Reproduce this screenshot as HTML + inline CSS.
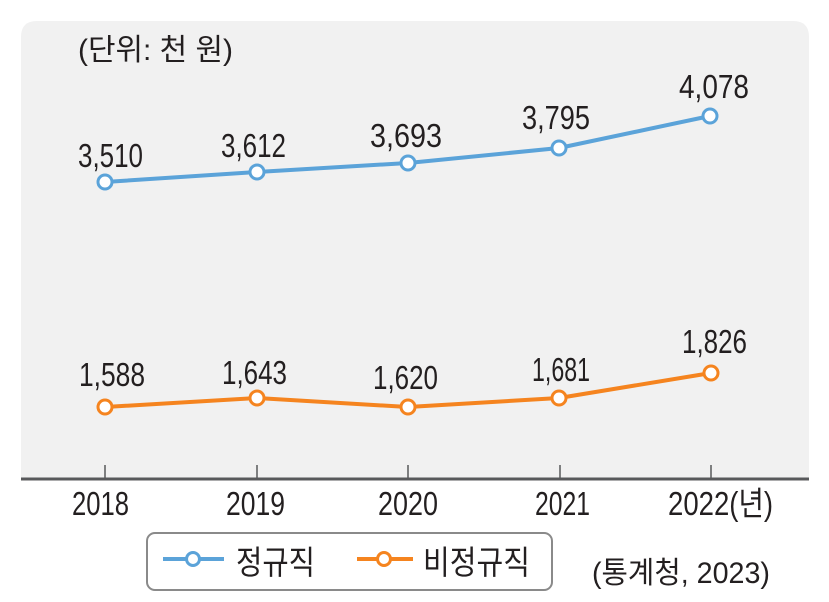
<!DOCTYPE html>
<html>
<head>
<meta charset="utf-8">
<style>
  html, body { margin:0; padding:0; background:#ffffff; }
  body { width:829px; height:602px; overflow:hidden; }
  svg { display:block; }
  .num { font-family:"Liberation Sans", sans-serif; font-size:33px; fill:#231f20; }
  .kr { font-family:"Liberation Sans", "Noto Sans CJK KR", sans-serif; fill:#231f20; }
</style>
</head>
<body>
<svg width="829" height="602" viewBox="0 0 829 602" xmlns="http://www.w3.org/2000/svg">
  <!-- panel -->
  <path d="M21,479 L21,37 Q21,21 37,21 L793,21 Q809,21 809,37 L809,479 Z" fill="#f1f1f1"/>
  <!-- axis -->
  <line x1="21" y1="479" x2="809" y2="479" stroke="#58595b" stroke-width="3"/>
  <g stroke="#58595b" stroke-width="1.5">
    <line x1="105" y1="465" x2="105" y2="479"/>
    <line x1="257" y1="465" x2="257" y2="479"/>
    <line x1="408" y1="465" x2="408" y2="479"/>
    <line x1="560" y1="465" x2="560" y2="479"/>
    <line x1="711" y1="465" x2="711" y2="479"/>
  </g>

  <!-- unit -->
  <text class="kr" x="78" y="60" font-size="30" textLength="155" lengthAdjust="spacingAndGlyphs">(단위: 천 원)</text>

  <!-- blue series -->
  <polyline points="105,182 257,172 408,163 559,148 710,116" fill="none" stroke="#5ba3d9" stroke-width="4" stroke-linejoin="round"/>
  <g fill="#ffffff" stroke="#5ba3d9" stroke-width="3">
    <circle cx="105" cy="182" r="7"/>
    <circle cx="257" cy="172" r="7"/>
    <circle cx="408" cy="163" r="7"/>
    <circle cx="559" cy="148" r="7"/>
    <circle cx="710" cy="116" r="7"/>
  </g>
  <text class="num" x="78" y="167" textLength="65" lengthAdjust="spacingAndGlyphs">3,510</text>
  <text class="num" x="221" y="157" textLength="65" lengthAdjust="spacingAndGlyphs">3,612</text>
  <text class="num" x="370" y="147" textLength="72" lengthAdjust="spacingAndGlyphs">3,693</text>
  <text class="num" x="522" y="129" textLength="68" lengthAdjust="spacingAndGlyphs">3,795</text>
  <text class="num" x="679" y="98" textLength="70" lengthAdjust="spacingAndGlyphs">4,078</text>

  <!-- orange series -->
  <polyline points="105,407 257,398 408,407 559,398 711,373" fill="none" stroke="#f5841f" stroke-width="4" stroke-linejoin="round"/>
  <g fill="#ffffff" stroke="#f5841f" stroke-width="3">
    <circle cx="105" cy="407" r="7"/>
    <circle cx="257" cy="398" r="7"/>
    <circle cx="408" cy="407" r="7"/>
    <circle cx="559" cy="398" r="7"/>
    <circle cx="711" cy="373" r="7"/>
  </g>
  <text class="num" x="79" y="386" textLength="66" lengthAdjust="spacingAndGlyphs">1,588</text>
  <text class="num" x="222" y="384" textLength="65" lengthAdjust="spacingAndGlyphs">1,643</text>
  <text class="num" x="373" y="389" textLength="65" lengthAdjust="spacingAndGlyphs">1,620</text>
  <text class="num" x="532" y="381" textLength="58" lengthAdjust="spacingAndGlyphs">1,681</text>
  <text class="num" x="682" y="353" textLength="65" lengthAdjust="spacingAndGlyphs">1,826</text>

  <!-- x labels -->
  <text class="num" x="72" y="515" textLength="57" lengthAdjust="spacingAndGlyphs">2018</text>
  <text class="num" x="226" y="515" textLength="59" lengthAdjust="spacingAndGlyphs">2019</text>
  <text class="num" x="378" y="515" textLength="60" lengthAdjust="spacingAndGlyphs">2020</text>
  <text class="num" x="535" y="515" textLength="55" lengthAdjust="spacingAndGlyphs">2021</text>
  <text class="kr" x="668" y="515" font-size="33" textLength="105" lengthAdjust="spacingAndGlyphs">2022(년)</text>

  <!-- legend -->
  <rect x="147" y="533" width="405" height="57" rx="8" ry="8" fill="#ffffff" stroke="#8a8a8a" stroke-width="2"/>
  <line x1="163" y1="559" x2="224" y2="559" stroke="#5ba3d9" stroke-width="4"/>
  <circle cx="193" cy="559" r="6.5" fill="#ffffff" stroke="#5ba3d9" stroke-width="3"/>
  <text class="kr" x="236" y="574" font-size="33" textLength="79" lengthAdjust="spacingAndGlyphs">정규직</text>
  <line x1="357" y1="559" x2="413" y2="559" stroke="#f5841f" stroke-width="4"/>
  <circle cx="384" cy="559" r="6.5" fill="#ffffff" stroke="#f5841f" stroke-width="3"/>
  <text class="kr" x="423" y="574" font-size="33" textLength="107" lengthAdjust="spacingAndGlyphs">비정규직</text>

  <!-- source -->
  <text class="kr" x="592" y="583" font-size="30" textLength="178" lengthAdjust="spacingAndGlyphs">(통계청, 2023)</text>
</svg>
</body>
</html>
